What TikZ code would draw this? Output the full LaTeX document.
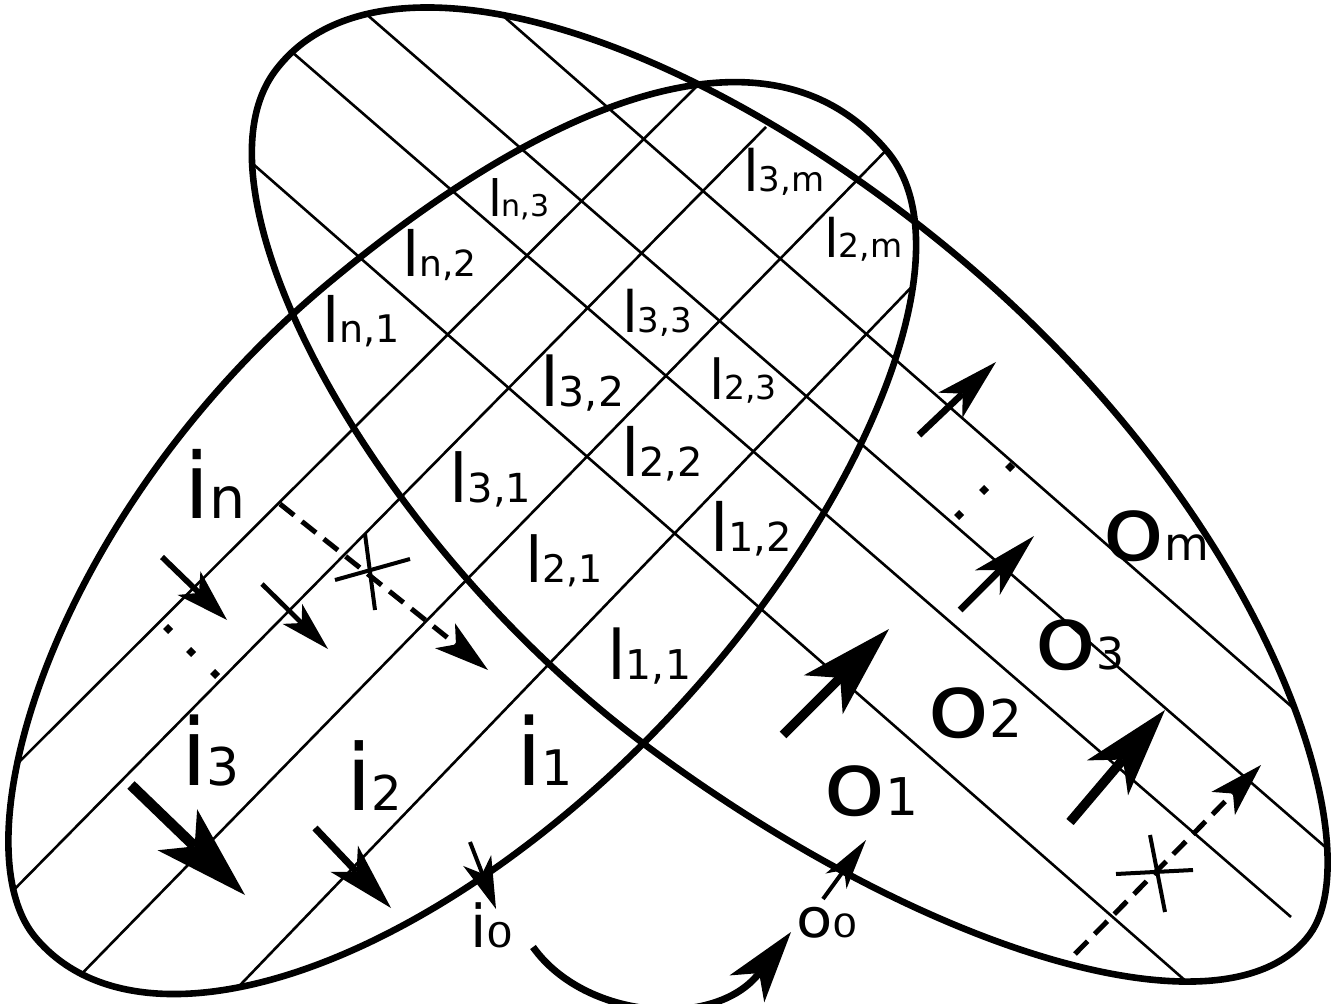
\documentclass[tikz,border=0pt]{standalone}
\usepackage{fontspec}
\setmainfont{DejaVu Sans}
\usepackage{graphicx}
\usetikzlibrary{arrows.meta}
\newcommand\lsub[3]{{\fontsize{#1pt}{#1pt}\selectfont l}{\fontsize{#2pt}{#2pt}\selectfont #3}}
\newcommand\isub[3]{{\fontsize{#1pt}{#1pt}\selectfont i}{\fontsize{#2pt}{#2pt}\selectfont #3}}
\newcommand\osub[4]{{\fontsize{#1pt}{#1pt}\selectfont\scalebox{#4}[1]{o}}{\fontsize{#2pt}{#2pt}\selectfont #3}}
\newcommand\zro{\scalebox{1.25}[1]{0}}
\def\pathA{(887.5,151.7) .. controls (775.6,17.4) and (564.8,86.1) .. (327.5,283.9) .. controls (55.9,510.3) and (-45.3,840.6) .. (35.3,937.3) .. controls (126.3,1046.5) and (349.5,994.3) .. (566.9,813.2) .. controls (824.1,598.8) and (984.5,268) .. (887.5,151.7) -- cycle}
\def\pathB{(274.8,71.4) .. controls (364.5,-49.9) and (623.1,5.5) .. (890.2,203.2) .. controls (1262.7,478.9) and (1376.1,844.7) .. (1309.7,934.4) .. controls (1229.9,1042.3) and (934.2,958.8) .. (649.1,747.8) .. controls (377.8,547) and (183.1,195.3) .. (274.8,71.4) -- cycle}
\tikzset{
  rim/.style={line width=3.3pt},
  hatch/.style={line width=1.3pt},
  xmark/.style={line width=2pt},
  lbl/.style={inner sep=0pt, outer sep=0pt, anchor=base west},
  arw/.style n args={4}{line width=#1, -{Stealth[length=#2, width=#3, inset=#4, line width=0pt]}},
  dsh/.style={dash pattern=on 9pt off 5pt},
}
\begin{document}
\begin{tikzpicture}[x=0.5pt, y=-0.5pt]
\useasboundingbox (0,0) rectangle (1331,1004);
% hatching, input direction (inside the left outline)
\begin{scope}
\clip \pathA;
\draw[hatch] (-9,790) -- (717,66);
\draw[hatch] (-6,910) -- (766,127);
\draw[hatch] (61,995) -- (904,132);
\draw[hatch] (219,1007) -- (927,271);
\end{scope}
% hatching, output direction (inside the right outline)
\begin{scope}
\clip \pathB;
\draw[hatch] (477,-7) -- (1324,735);
\draw[hatch] (342,-7) -- (1346,865);
\draw[hatch] (270,33) -- (1291,917);
\draw[hatch] (237,150) -- (1204,997);
\end{scope}
% outlines
\draw[rim] \pathA;
\draw[rim] \pathB;
% arrows, input side
\coordinate (a1s) at (162,557); \coordinate (a1e) at (227,620);
\draw[arw={2.85pt}{26.5pt}{16.5pt}{7pt}] (a1s) -- (a1e);
\coordinate (a2s) at (262,584); \coordinate (a2e) at (328,649);
\draw[arw={2.35pt}{25pt}{14pt}{6.5pt}] (a2s) -- (a2e);
\coordinate (a3s) at (280,504); \coordinate (a3e) at (488,670);
\draw[arw={2.5pt}{27.5pt}{16pt}{7pt}, dsh] (a3s) -- (a3e);
\coordinate (a4s) at (131,785); \coordinate (a4e) at (245,895);
\draw[arw={5.25pt}{47pt}{28.5pt}{12pt}] (a4s) -- (a4e);
\coordinate (a5s) at (315,828); \coordinate (a5e) at (391,908);
\draw[arw={3.5pt}{34pt}{19pt}{9pt}] (a5s) -- (a5e);
\coordinate (a6s) at (470,842); \coordinate (a6e) at (496,909);
\draw[arw={2pt}{26pt}{15pt}{7pt}] (a6s) -- (a6e);
% bottom curved arrow
\coordinate (a7s) at (533,947); \coordinate (a7e) at (791,932);
\draw[arw={3.5pt}{36pt}{22pt}{10pt}] (a7s) .. controls (585,1020) and (715,1030) .. (a7e);
% arrows, output side
\coordinate (a8s) at (823,899); \coordinate (a8e) at (866,840);
\draw[arw={2pt}{25.5pt}{13pt}{7pt}] (a8s) -- (a8e);
\coordinate (a9s) at (783,735); \coordinate (a9e) at (889,629);
\draw[arw={4.75pt}{46.5pt}{27.5pt}{12pt}] (a9s) -- (a9e);
\coordinate (a10s) at (1070,822); \coordinate (a10e) at (1165,710);
\draw[arw={4.75pt}{44.5pt}{27pt}{12pt}] (a10s) -- (a10e);
\coordinate (a11s) at (1075,954); \coordinate (a11e) at (1261,765);
\draw[arw={2.5pt}{27pt}{16.5pt}{7pt}, dsh] (a11s) -- (a11e);
\coordinate (a12s) at (960,610); \coordinate (a12e) at (1034,536);
\draw[arw={3.35pt}{33pt}{17.5pt}{9pt}] (a12s) -- (a12e);
\coordinate (a13s) at (919,435); \coordinate (a13e) at (996,362);
\draw[arw={3.35pt}{31.5pt}{17.5pt}{8.5pt}] (a13s) -- (a13e);
% crosses
\draw[xmark] (365,534) -- (375,610);
\draw[xmark] (335,580) -- (410,559);
\draw[xmark] (1116,874) -- (1193,870);
\draw[xmark] (1150,835) -- (1165,912);
% dots
\foreach \p in {(168,629),(191,652),(215,674),(959,515),(984,490),(1010,467)}
  \fill \p +(-5,0) -- +(0,-5) -- +(5,0) -- +(0,5) -- cycle;
% labels
\node[lbl] (ln3) at (488,217) {\lsub{25}{15}{n,3}};
\node[lbl] (ln2) at (402,277) {\lsub{31}{18}{n,2}};
\node[lbl] (ln1) at (322,343) {\lsub{31}{19}{n,1}};
\node[lbl] (l33) at (622,333) {\lsub{28.5}{17}{3,3}};
\node[lbl] (l32) at (540,407) {\lsub{34}{20.5}{3,2}};
\node[lbl] (l22) at (621,477) {\lsub{33}{20}{2,2}};
\node[lbl] (l23) at (709,400) {\lsub{27.5}{16.5}{2,3}};
\node[lbl] (l3m) at (743,192) {\lsub{28.5}{17}{3,m}};
\node[lbl] (l2m) at (824,258) {\lsub{26.5}{16.5}{2,m}};
\node[lbl] (l31) at (449,503) {\lsub{33.5}{20}{3,1}};
\node[lbl] (l21) at (525,582) {\lsub{31.5}{19}{2,1}};
\node[lbl] (l11) at (607,679) {\lsub{34}{20.5}{1,1}};
\node[lbl] (l12) at (710,552) {\lsub{33}{20}{1,2}};
\node[lbl] (in) at (184,519) {\isub{45.5}{28.5}{n}};
\node[lbl] (i3) at (181,785) {\isub{46.5}{26}{3}};
\node[lbl] (i2) at (346,810) {\isub{46}{24}{2}};
\node[lbl] (i1) at (516,785) {\isub{46.5}{24.5}{1}};
\node[lbl] (i0) at (470,947) {\isub{29.5}{17}{\zro}};
\node[lbl] (o0) at (796,937) {\osub{27}{16}{\zro}{1.1}};
\node[lbl] (o1) at (823,815) {\osub{44.5}{26}{1}{1.15}};
\node[lbl] (o2) at (927,737) {\osub{44.5}{26}{2}{1.15}};
\node[lbl] (o3) at (1034,669) {\osub{44.5}{22}{3}{1.15}};
\node[lbl] (om) at (1102,560) {\osub{44.5}{23}{m}{1.15}};
\end{tikzpicture}
\end{document}
